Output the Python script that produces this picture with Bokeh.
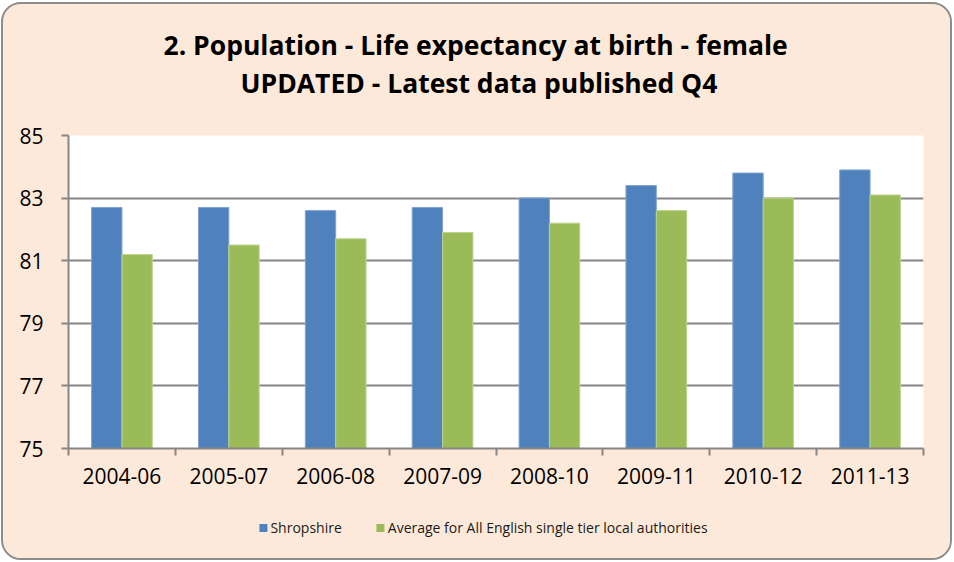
from bokeh.plotting import figure
from bokeh.layouts import column
from bokeh.models import (ColumnDataSource, FixedTicker, Range1d, Title, Legend,
                          LegendItem, LinearAxis, Grid)
from bokeh.embed import file_html
from bokeh.resources import INLINE

periods = ["2004-06", "2005-07", "2006-08", "2007-09", "2008-10", "2009-11", "2010-12", "2011-13"]
shropshire = [82.7, 82.7, 82.6, 82.7, 83.0, 83.4, 83.8, 83.9]
average = [81.2, 81.5, 81.7, 81.9, 82.2, 82.6, 83.0, 83.1]
y_ticks = [75, 77, 79, 81, 83, 85]
series_names = ["Shropshire", "Average for All English single tier local authorities"]

BLUE = "#4F81BD"
GREEN = "#9BBB59"
PEACH = "#FDE9D9"
GRAY = "#868686"
FONT = "Open Sans"

centers = [i + 0.5 for i in range(len(periods))]
src = ColumnDataSource(dict(
    x1=[c - 0.142 for c in centers],
    x2=[c + 0.142 for c in centers],
    s=shropshire, a=average,
))

p = figure(frame_width=855, frame_height=313, output_backend="svg", toolbar_location=None,
           x_range=Range1d(0, len(periods)), y_range=Range1d(75, 85),
           x_axis_type=None, y_axis_type=None,
           min_border_left=65, min_border_right=27, min_border_top=131, min_border_bottom=54)
p.background_fill_color = "white"
p.border_fill_color = PEACH
p.outline_line_color = None

r1 = p.vbar(x="x1", top="s", bottom=75, width=0.284, source=src,
            fill_color=BLUE, line_color="#7FA3D0", line_width=1)
r2 = p.vbar(x="x2", top="a", bottom=75, width=0.284, source=src,
            fill_color=GREEN, line_color="#BCD48F", line_width=1)

grid = Grid(dimension=1, ticker=FixedTicker(ticks=y_ticks), grid_line_color=GRAY,
            grid_line_width=2, level="underlay")
p.add_layout(grid)

# y axis
yaxis = LinearAxis(ticker=FixedTicker(ticks=y_ticks))
yaxis.axis_line_color = GRAY
yaxis.axis_line_width = 2
yaxis.major_tick_line_color = GRAY
yaxis.major_tick_line_width = 2
yaxis.major_tick_out = 7
yaxis.major_tick_in = 0
yaxis.minor_tick_line_color = None
yaxis.major_label_text_font = FONT
yaxis.major_label_text_font_size = "21px"
yaxis.major_label_text_color = "black"
yaxis.major_label_standoff = 18
p.add_layout(yaxis, "left")

# x axis: labels at centers, tick marks at category boundaries (minor ticks)
xaxis = LinearAxis(ticker=FixedTicker(ticks=centers, minor_ticks=list(range(len(periods) + 1))))
xaxis.major_label_overrides = {c: lab for c, lab in zip(centers, periods)}
xaxis.axis_line_color = GRAY
xaxis.axis_line_width = 2
xaxis.major_tick_line_color = None
xaxis.major_tick_out = 7
xaxis.major_tick_in = 0
xaxis.minor_tick_line_color = GRAY
xaxis.minor_tick_line_width = 2
xaxis.minor_tick_out = 7
xaxis.minor_tick_in = 0
xaxis.major_label_text_font = FONT
xaxis.major_label_text_font_size = "21px"
xaxis.major_label_text_color = "black"
xaxis.major_label_standoff = 12
p.add_layout(xaxis, "below")

spacer = Title(text=" ", text_font_size="1px", standoff=32)
t2 = Title(text="UPDATED - Latest data published Q4", align="left", offset=172,
           text_font=FONT, text_font_size="26.5px", text_font_style="bold",
           text_color="black", standoff=0)
t1 = Title(text="2. Population - Life expectancy at birth - female", align="left", offset=95,
           text_font=FONT, text_font_size="26.5px", text_font_style="bold",
           text_color="black", standoff=0)
p.add_layout(spacer, "above")
p.add_layout(t2, "above")
p.add_layout(t1, "above")

# legend strip below the chart (hidden key renderers, same data)
lg = figure(width=947, height=56, output_backend="svg", toolbar_location=None,
            x_range=Range1d(0, len(periods)), y_range=Range1d(75, 85),
            x_axis_type=None, y_axis_type=None,
            min_border_left=0, min_border_right=53, min_border_top=0, min_border_bottom=6)
lg.background_fill_color = PEACH
lg.border_fill_color = PEACH
lg.outline_line_color = None
k1 = lg.vbar(x="x1", top="s", bottom=75, width=0.284, source=src,
             fill_color=BLUE, line_color=None, visible=False)
k2 = lg.vbar(x="x2", top="a", bottom=75, width=0.284, source=src,
             fill_color=GREEN, line_color=None, visible=False)

legend = Legend(items=[LegendItem(label=series_names[0], renderers=[k1]),
                       LegendItem(label=series_names[1], renderers=[k2])],
                orientation="horizontal", location="center")
legend.background_fill_alpha = 0
legend.border_line_color = None
legend.inactive_fill_alpha = 0
legend.label_text_font = FONT
legend.label_text_font_size = "14px"
legend.label_text_color = "#1a1a1a"
legend.glyph_width = 10
legend.glyph_height = 10
legend.spacing = 33
legend.label_standoff = 3
legend.margin = 0
legend.padding = 0
lg.add_layout(legend, "center")

lay = column(p, lg, spacing=0)
lay.styles = {"border": "2px solid #8c8c8c", "border-radius": "20px", "overflow": "hidden",
              "margin-left": "1px", "margin-top": "2px", "background-color": PEACH}

open("out.html", "w").write(file_html(lay, INLINE))
